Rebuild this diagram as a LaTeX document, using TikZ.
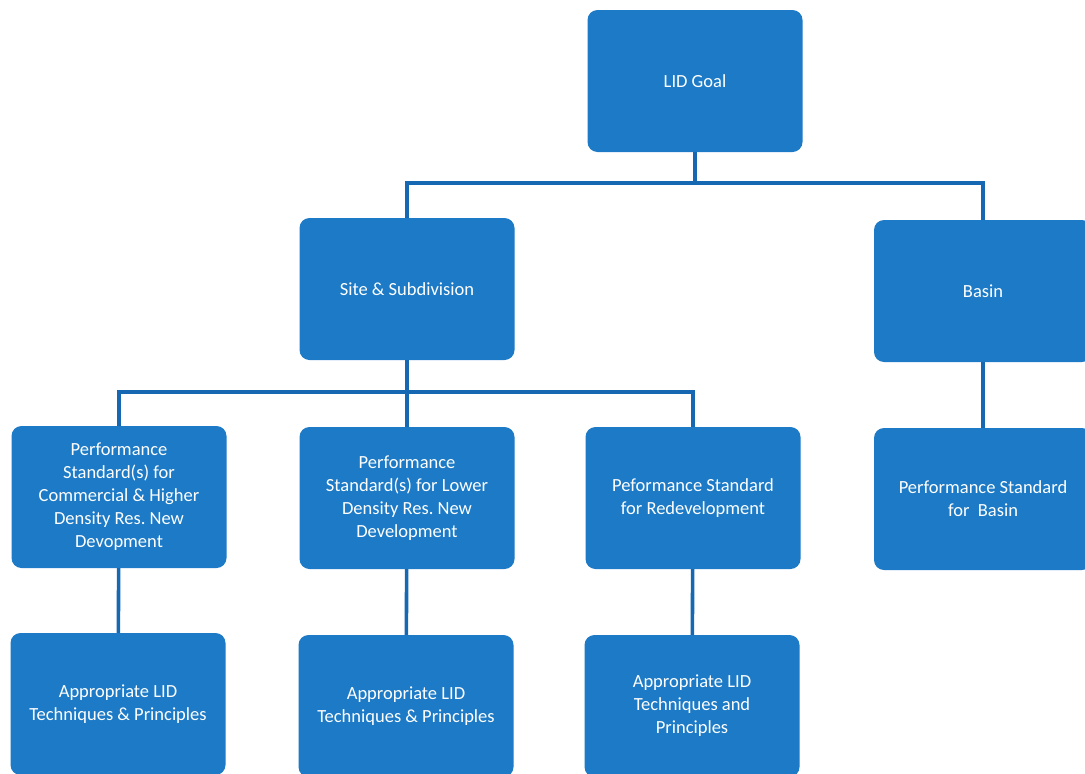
\documentclass[tikz,border=0pt]{standalone}
\usepackage{fontspec}
\setmainfont{Carlito}
\usepackage{xcolor}
\usetikzlibrary{positioning}
\definecolor{boxblue}{RGB}{28,122,198}
\definecolor{lineblue}{RGB}{22,104,178}

\begin{document}
\begin{tikzpicture}[x=1pt, y=-1pt,
    box/.style={rectangle, rounded corners=10pt, fill=boxblue, text=white,
      minimum width=215pt, minimum height=142pt, inner sep=4pt,
      align=center, font=\fontsize{18.5}{23}\selectfont},
    link/.style={draw=lineblue, line width=3.6pt}]

  \useasboundingbox (0,0) rectangle (1085,774);
  \clip (0,0) rectangle (1085,774);

  % top
  \node[box] (goal) at (695, 81) {LID Goal};

  % second row
  \node[box] (site)  at (407, 289) {Site \& Subdivision};
  \node[box, minimum width=218pt] (basin) at (983, 291) {Basin};

  % third row
  \node[box] (perfA) at (119, 497) {Performance\\Standard(s) for\\Commercial \& Higher\\Density Res.\ New\\Devopment};
  \node[box] (perfB) at (407, 498) {Performance\\Standard(s) for Lower\\Density Res.\ New\\Development};
  \node[box] (perfC) at (693, 498) {Peformance Standard\\for Redevelopment};
  \node[box, minimum width=218pt] (perfD) at (983, 499) {Performance Standard\\for\ \ Basin};

  % fourth row
  \node[box] (lidA) at (118, 704) {Appropriate LID\\Techniques \& Principles};
  \node[box] (lidB) at (406, 706) {Appropriate LID\\Techniques \& Principles};
  \node[box] (lidC) at (692, 706) {Appropriate LID\\Techniques and\\Principles};

  % bus points
  \coordinate (busA) at (695, 183);
  \coordinate (busB) at (407, 392);

  % connectors
  \draw[link] (goal.south) -- (busA);
  \draw[link] (site.north) |- (busA) -| (basin.north);
  \draw[link] (site.south) -- (busB);
  \draw[link] (perfA.north) |- (busB) -| (perfC.north);
  \draw[link] (busB) -- (perfB.north);
  \draw[link] (basin.south) -- (perfD.north);

  \draw[link] (perfA) -- (lidA);
  \draw[link] (perfB) -- (lidB);
  \draw[link] (perfC) -- (lidC);
\end{tikzpicture}
\end{document}
